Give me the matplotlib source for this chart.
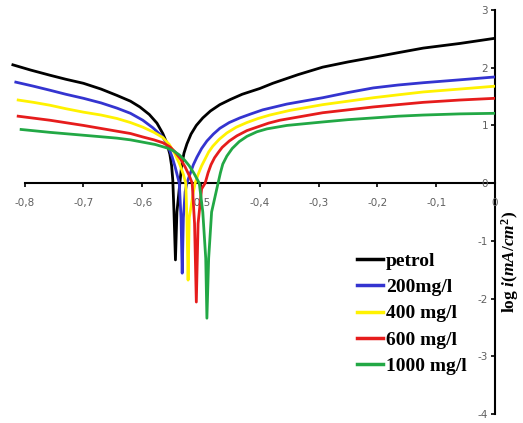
import matplotlib
matplotlib.use('Agg')
import matplotlib.pyplot as plt

# potential (V) and log current density
E_petrol = [-0.820, -0.790, -0.757, -0.730, -0.700, -0.670, -0.643, -0.620, -0.604, -0.588,
            -0.575, -0.565, -0.558, -0.553, -0.550, -0.548, -0.546, -0.5435, -0.541, -0.536,
            -0.533, -0.529, -0.524, -0.517, -0.508, -0.497, -0.484, -0.468, -0.450, -0.430,
            -0.400, -0.378, -0.335, -0.293, -0.250, -0.207, -0.165, -0.122, -0.060, 0.000]
logi_petrol = [2.05, 1.96, 1.87, 1.80, 1.73, 1.63, 1.52, 1.42, 1.32, 1.19,
               1.04, 0.86, 0.69, 0.50, 0.30, 0.05, -0.50, -1.33, -0.50, 0.00,
               0.30, 0.52, 0.68, 0.85, 1.00, 1.13, 1.25, 1.36, 1.45, 1.54,
               1.64, 1.73, 1.88, 2.01, 2.10, 2.18, 2.26, 2.34, 2.42, 2.51]

E_200 = [-0.815, -0.785, -0.757, -0.730, -0.700, -0.670, -0.643, -0.620, -0.599, -0.582,
         -0.565, -0.556, -0.549, -0.544, -0.540, -0.537, -0.534, -0.532, -0.530, -0.527,
         -0.524, -0.519, -0.513, -0.507, -0.499, -0.490, -0.479, -0.468, -0.452, -0.434,
         -0.415, -0.395, -0.354, -0.293, -0.250, -0.207, -0.165, -0.122, -0.060, 0.000]
logi_200 = [1.75, 1.68, 1.61, 1.54, 1.47, 1.39, 1.30, 1.21, 1.09, 0.96,
            0.80, 0.64, 0.45, 0.28, 0.12, 0.00, -0.60, -1.56, -0.60, -0.15,
            0.00, 0.15, 0.32, 0.45, 0.60, 0.73, 0.85, 0.95, 1.05, 1.13,
            1.20, 1.27, 1.37, 1.48, 1.57, 1.65, 1.70, 1.74, 1.79, 1.84]

E_400 = [-0.811, -0.785, -0.757, -0.730, -0.700, -0.670, -0.643, -0.620, -0.599, -0.580,
         -0.565, -0.554, -0.545, -0.536, -0.530, -0.526, -0.524, -0.522, -0.520, -0.513,
         -0.510, -0.505, -0.499, -0.493, -0.487, -0.480, -0.469, -0.456, -0.440, -0.422,
         -0.403, -0.383, -0.349, -0.293, -0.250, -0.207, -0.165, -0.122, -0.060, 0.000]
logi_400 = [1.44, 1.40, 1.35, 1.29, 1.23, 1.18, 1.12, 1.05, 0.97, 0.88,
            0.79, 0.67, 0.52, 0.32, 0.15, 0.00, -0.60, -1.68, -0.60, -0.15,
            0.00, 0.15, 0.30, 0.42, 0.54, 0.64, 0.76, 0.87, 0.97, 1.05,
            1.12, 1.18, 1.26, 1.36, 1.42, 1.48, 1.53, 1.58, 1.63, 1.68]

E_600 = [-0.811, -0.757, -0.700, -0.643, -0.620, -0.599, -0.580, -0.565, -0.553, -0.544,
         -0.535, -0.527, -0.520, -0.515, -0.511, -0.508, -0.505, -0.499, -0.493, -0.488,
         -0.483, -0.477, -0.470, -0.464, -0.452, -0.439, -0.422, -0.405, -0.385, -0.366,
         -0.349, -0.293, -0.250, -0.207, -0.165, -0.122, -0.060, 0.000]
logi_600 = [1.16, 1.09, 1.00, 0.90, 0.86, 0.80, 0.75, 0.70, 0.63, 0.54,
            0.42, 0.28, 0.13, 0.00, -0.70, -2.06, -0.70, -0.10, 0.00, 0.18,
            0.32, 0.44, 0.54, 0.62, 0.73, 0.82, 0.91, 0.97, 1.04, 1.09,
            1.12, 1.22, 1.27, 1.32, 1.36, 1.40, 1.44, 1.47]

E_1000 = [-0.806, -0.757, -0.700, -0.643, -0.620, -0.599, -0.578, -0.558, -0.547, -0.537,
          -0.528, -0.520, -0.512, -0.503, -0.497, -0.492, -0.490, -0.487, -0.482, -0.471,
          -0.467, -0.463, -0.456, -0.447, -0.435, -0.422, -0.405, -0.388, -0.354, -0.293,
          -0.250, -0.207, -0.165, -0.122, -0.060, 0.000]
logi_1000 = [0.93, 0.88, 0.83, 0.78, 0.75, 0.71, 0.67, 0.61, 0.56, 0.49,
             0.40, 0.30, 0.17, 0.00, -0.50, -1.30, -2.34, -1.30, -0.50, 0.00,
             0.18, 0.33, 0.47, 0.60, 0.72, 0.81, 0.89, 0.94, 1.00, 1.06,
             1.10, 1.13, 1.16, 1.18, 1.20, 1.21]

series = [
    (E_petrol, logi_petrol, 'petrol', 'black'),
    (E_200, logi_200, '200mg/l', '#3434d0'),
    (E_400, logi_400, '400 mg/l', '#fff200'),
    (E_600, logi_600, '600 mg/l', '#e61c1c'),
    (E_1000, logi_1000, '1000 mg/l', '#22a845'),
]

x_ticks = [-0.8, -0.7, -0.6, -0.5, -0.4, -0.3, -0.2, -0.1, 0.0]
x_labels = ['-0,8', '-0,7', '-0,6', '-0,5', '-0,4', '-0,3', '-0,2', '-0,1', '0']
y_ticks = [-4, -3, -2, -1, 0, 1, 2, 3]
y_labels = ['-4', '-3', '-2', '-1', '0', '1', '2', '3']

plt.rcParams['mathtext.fontset'] = 'custom'
plt.rcParams['mathtext.it'] = 'Liberation Serif:italic:bold'
plt.rcParams['mathtext.rm'] = 'Liberation Serif:bold'

fig = plt.figure(figsize=(5.23, 4.23), dpi=100)
ax = fig.add_axes([7 / 523, 1 - 414 / 423, 488 / 523, 404 / 423])

for E, logi, name, color in series:
    ax.plot(E, logi, color=color, lw=2.0, label=name, solid_joinstyle='round')

ax.set_xlim(-0.83, 0)
ax.set_ylim(-4, 3)

ax.spines['top'].set_visible(False)
ax.spines['right'].set_visible(False)
ax.spines['left'].set_position(('data', 0))
ax.spines['bottom'].set_position(('data', 0))
ax.spines['left'].set_bounds(-4, 3)
ax.spines['bottom'].set_bounds(-0.8, 0)
for s in ('left', 'bottom'):
    ax.spines[s].set_linewidth(1.5)
    ax.spines[s].set_zorder(1)

ax.set_xticks(x_ticks)
ax.set_xticklabels(x_labels)
ax.set_yticks(y_ticks)
ax.set_yticklabels(y_labels)
ax.tick_params(axis='both', direction='out', length=3, width=1.2,
               labelsize=7.5, labelcolor='#606060')
ax.tick_params(axis='x', pad=8)
ax.tick_params(axis='y', pad=2)

fig.text(510 / 523, 1 - 262 / 423, 'log $i(mA/cm^2)$', rotation=90,
         ha='center', va='center', family='Liberation Serif',
         fontweight='bold', fontsize=12.5)

leg = ax.legend(loc='upper left', bbox_to_anchor=(357 / 523, 1 - 252 / 423),
                bbox_transform=fig.transFigure, frameon=False, borderpad=0,
                borderaxespad=0, handlelength=1.35, handletextpad=0.15,
                labelspacing=0.45,
                prop={'family': 'Liberation Serif', 'weight': 'bold', 'size': 14})
for line in leg.get_lines():
    line.set_linewidth(2.5)

fig.savefig('out.png', dpi=100)
